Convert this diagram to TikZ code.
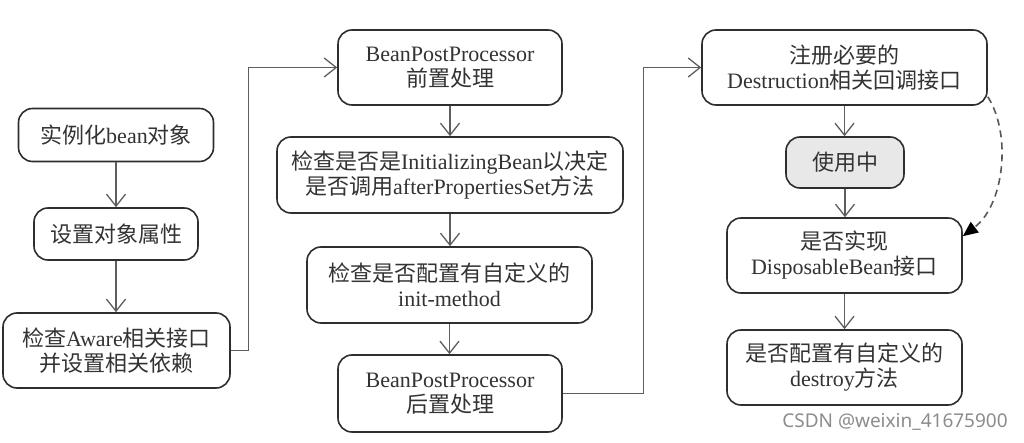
\documentclass[tikz,border=0pt]{standalone}
\usepackage{fontspec}
\setmainfont{Liberation Serif}
\newfontfamily\cjk{Noto Sans CJK SC}
\newfontfamily\wmfont{Noto Sans}
\usetikzlibrary{arrows.meta}
\definecolor{txt}{HTML}{333333}
\definecolor{edge}{HTML}{2E2E2E}
\definecolor{conn}{HTML}{5E5E5E}
\definecolor{usefill}{HTML}{E8E8E8}
\begin{document}
\begin{tikzpicture}[x=1pt,y=-1pt,
  box/.style={draw=edge, line width=1.6pt, rounded corners=14pt, fill=white,
    inner sep=0pt, align=center, text=txt,
    font=\fontsize{22}{25}\selectfont},
  arr/.style={draw=conn, line width=1.3pt,
    -{Straight Barb[length=12pt,width=19pt,line width=1.3pt]}},
  dasharr/.style={draw=black!65, line width=1.6pt, dash pattern=on 7pt off 5pt,
    -{Triangle[length=15pt,width=13pt,color=black]}}
]
\useasboundingbox (0,0) rectangle (1024,443);

% left column
\node[box, minimum width=195pt, minimum height=53pt] (inst) at (116,135) {{\cjk 实例化}bean{\cjk 对象}};
\node[box, minimum width=164pt, minimum height=52pt] (setp) at (116,234) {{\cjk 设置对象属性}};
\node[box, minimum width=227pt, minimum height=75pt] (aware) at (116.5,350.5) {{\cjk 检查}Aware{\cjk 相关接口}\\{\cjk 并设置相关依赖}};

% middle column
\node[box, minimum width=224pt, minimum height=75pt] (bpp1) at (450,67.5) {BeanPostProcessor\\{\cjk 前置处理}};
\node[box, minimum width=346pt, minimum height=76pt] (initb) at (450,175) {{\cjk 检查是否是}InitializingBean{\cjk 以决定}\\{\cjk 是否调用}afterPropertiesSet{\cjk 方法}};
\node[box, minimum width=285pt, minimum height=76pt] (initm) at (449.5,285) {{\cjk 检查是否配置有自定义的}\\init-method};
\node[box, minimum width=224pt, minimum height=77pt] (bpp2) at (450,393.5) {BeanPostProcessor\\{\cjk 后置处理}};

% right column
\node[box, minimum width=285pt, minimum height=75pt] (reg) at (844.5,67.5) {{\cjk 注册必要的}\\Destruction{\cjk 相关回调接口}};
\node[box, fill=usefill, minimum width=118pt, minimum height=51pt] (use) at (845,162.5) {{\cjk 使用中}};
\node[box, minimum width=235pt, minimum height=75pt] (disp) at (844.5,255.5) {{\cjk 是否实现}\\DisposableBean{\cjk 接口}};
\node[box, minimum width=235pt, minimum height=75pt] (destroy) at (844.5,367.5) {{\cjk 是否配置有自定义的}\\destroy{\cjk 方法}};

% vertical connectors
\draw[arr] (inst.south) -- (inst.south |- setp.north);
\draw[arr] (setp.south) -- (setp.south |- aware.north);
\draw[arr] (bpp1.south) -- (bpp1.south |- initb.north);
\draw[arr] (initb.south) -- (initb.south |- initm.north);
\draw[arr] (initm.south) -- (initm.south |- bpp2.north);
\draw[arr] (reg.south) -- (reg.south |- use.north);
\draw[arr] (use.south) -- (use.south |- disp.north);
\draw[arr] (disp.south) -- (disp.south |- destroy.north);

% elbow connectors
\draw[arr] (aware.east) -- ++(18,0) |- (bpp1.west);
\draw[arr] (bpp2.east) -- ++(81,0) |- (reg.west);

% dashed curve
\coordinate (dstart) at ([yshift=9pt]reg.south east);
\coordinate (dend) at ([yshift=-19pt]disp.north east);
\draw[dasharr] (dstart) .. controls (1012,135) and (1004,205) .. (dend);

% watermark
\node[text=black!45, font=\wmfont\fontsize{19}{22}\selectfont, inner sep=0pt] (wm) at (895,422) {CSDN @weixin\_41675900};
\end{tikzpicture}
\end{document}
